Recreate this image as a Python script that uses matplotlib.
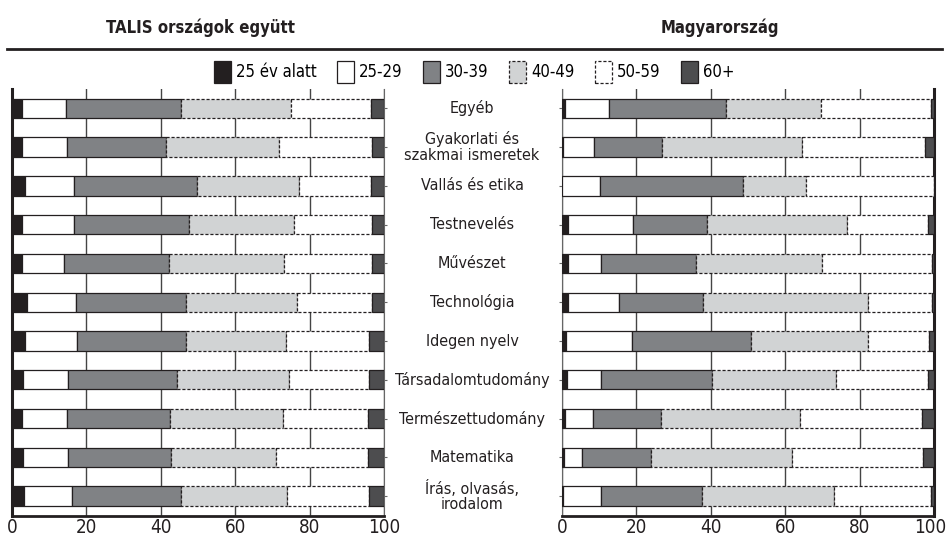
import matplotlib.pyplot as plt
import matplotlib.transforms as mtransforms
from matplotlib import font_manager as fm
from matplotlib.lines import Line2D

subjects = ['Egyéb', 'Gyakorlati és\nszakmai ismeretek', 'Vallás és etika', 'Testnevelés',
            'Művészet', 'Technológia', 'Idegen nyelv', 'Társadalomtudomány',
            'Természettudomány', 'Matematika', 'Írás, olvasás,\nirodalom']
age_groups = ['25 év alatt', '25-29', '30-39', '40-49', '50-59', '60+']

# TALIS országok együtt (%)
talis_u25 = [2.6, 2.8, 3.4, 2.6, 2.6, 4.0, 3.4, 2.9, 2.8, 3.0, 3.3]
talis_25_29 = [11.9, 12.0, 13.2, 14.1, 11.3, 13.2, 14.1, 12.2, 12.0, 12.0, 12.9]
talis_30_39 = [30.9, 26.6, 33.2, 30.9, 28.2, 29.5, 29.2, 29.3, 27.7, 27.8, 29.1]
talis_40_49 = [29.6, 30.4, 27.3, 28.1, 31.0, 29.9, 26.9, 30.0, 30.4, 28.3, 28.7]
talis_50_59 = [21.5, 24.9, 19.3, 21.2, 23.8, 20.1, 22.3, 21.7, 22.8, 24.6, 22.1]
talis_60 = [3.5, 3.3, 3.6, 3.1, 3.1, 3.3, 4.1, 3.9, 4.3, 4.3, 3.9]

# Magyarország (%)
hu_u25 = [0.8, 0.3, 0.0, 1.5, 1.6, 1.6, 1.2, 1.4, 0.9, 0.6, 0.4]
hu_25_29 = [11.8, 8.2, 10.1, 17.6, 9.0, 13.7, 17.6, 9.2, 7.3, 4.9, 10.0]
hu_30_39 = [31.4, 18.3, 38.6, 20.0, 25.3, 22.6, 32.0, 29.8, 18.5, 18.4, 27.2]
hu_40_49 = [25.5, 37.6, 16.8, 37.4, 33.9, 44.3, 31.4, 33.2, 37.3, 38.0, 35.6]
hu_50_59 = [29.7, 33.2, 34.5, 21.8, 29.6, 17.3, 16.4, 24.7, 32.7, 35.1, 26.0]
hu_60 = [0.8, 2.4, 0.0, 1.7, 0.6, 0.5, 1.4, 1.7, 3.3, 3.0, 0.8]

talis = [talis_u25, talis_25_29, talis_30_39, talis_40_49, talis_50_59, talis_60]
hungary = [hu_u25, hu_25_29, hu_30_39, hu_40_49, hu_50_59, hu_60]

# look for a narrow / condensed face, the original uses a condensed sans
narrow = [f for f in fm.fontManager.ttflist
          if 'condensed' in str(f.stretch) or 'Condensed' in f.fname or 'Narrow' in f.fname]
reg = [f for f in narrow if f.style == 'normal' and f.weight in (400, 'normal', 'regular')]
bld = [f for f in narrow if f.style == 'normal' and f.weight in (700, 'bold')]
if reg:
    reg.sort(key=lambda f: ('DejaVu' not in f.fname, f.fname))
    fp_reg = lambda s: fm.FontProperties(fname=reg[0].fname, size=s)
    scale = 1.0
else:
    fp_reg = lambda s: fm.FontProperties(family='DejaVu Sans', size=s)
    scale = 0.85
if bld:
    bld.sort(key=lambda f: ('DejaVu' not in f.fname, f.fname))
    fp_bold = lambda s: fm.FontProperties(fname=bld[0].fname, size=s)
else:
    fp_bold = lambda s: fm.FontProperties(family='DejaVu Sans', weight='bold', size=s * 0.85)

ink = '#231f20'
fills = [ink, 'white', '#808285', '#d1d3d4', 'white', '#4d4d4f']
styles = ['-', '-', '-', (0, (2.5, 1.5)), (0, (2.5, 1.5)), '-']

fig = plt.figure(figsize=(9.48, 5.45), dpi=100)
bottom = 1 - 515.5 / 545
height = (515.5 - 89) / 545
ax_l = fig.add_axes([12 / 948, bottom, 372 / 948, height])
ax_r = fig.add_axes([562 / 948, bottom, 372 / 948, height])

ypos = list(range(len(subjects)))


def draw(ax, data):
    left = [0.0] * len(subjects)
    handles = []
    for vals, fc, ls, name in zip(data, fills, styles, age_groups):
        b = ax.barh(ypos, vals, left=left, height=0.5, color=fc, edgecolor=ink,
                    linewidth=0.9, linestyle=ls, label=name, zorder=3)
        handles.append(b)
        left = [a + v for a, v in zip(left, vals)]
    ax.set_xlim(0, 100)
    ax.set_ylim(len(subjects) - 0.5, -0.5)
    ax.set_xticks([0, 20, 40, 60, 80, 100])
    ax.tick_params(axis='x', length=0, pad=2, colors=ink)
    for lab in ax.get_xticklabels():
        lab.set_fontproperties(fp_reg(13.5 * scale))
    ax.set_yticks(ypos)
    ax.set_yticklabels([])
    ax.xaxis.grid(True, color='#444444', linewidth=1.0, zorder=0)
    ax.set_axisbelow(True)
    for s in ax.spines.values():
        s.set_color(ink)
    ax.spines['top'].set_visible(False)
    ax.spines['bottom'].set_linewidth(2)
    return handles


handles = draw(ax_l, talis)
draw(ax_r, hungary)

ax_l.spines['left'].set_linewidth(2.2)
ax_l.spines['right'].set_linewidth(0.8)
ax_l.spines['right'].set_color('#666666')
ax_l.yaxis.tick_right()
ax_l.tick_params(axis='y', length=2.5, width=0.8, colors='#666666')

ax_r.spines['right'].set_linewidth(2.2)
ax_r.spines['left'].set_linewidth(0.8)
ax_r.spines['left'].set_color('#666666')
ax_r.tick_params(axis='y', length=2.5, width=0.8, colors='#666666')

# keep the last "100" inside the picture
last = ax_r.xaxis.get_major_ticks()[-1].label1
last.set_transform(last.get_transform() +
                   mtransforms.ScaledTranslation(-3.5 / 100, 0, fig.dpi_scale_trans))

# subject labels in the middle
trans = mtransforms.blended_transform_factory(fig.transFigure, ax_l.transData)
for y, name in zip(ypos, subjects):
    ax_l.text(472 / 948, y, name, transform=trans, ha='center', va='center',
              fontproperties=fp_reg(11.5 * scale), color=ink, linespacing=1.05, clip_on=False)

fig.text(200 / 948, 1 - 28 / 545, 'TALIS országok együtt', ha='center', va='center',
         fontproperties=fp_bold(12), color=ink)
fig.text(720 / 948, 1 - 28 / 545, 'Magyarország', ha='center', va='center',
         fontproperties=fp_bold(12), color=ink)
fig.add_artist(Line2D([7 / 948, 942 / 948], [1 - 48.5 / 545] * 2, transform=fig.transFigure,
                      color=ink, linewidth=2))

fig.legend(handles=handles, labels=age_groups, loc='center', ncol=6,
           bbox_to_anchor=(474 / 948, 1 - 72 / 545), frameon=False,
           prop=fp_reg(12 * scale),
           handlelength=1.0, handleheight=1.6, handletextpad=0.3, columnspacing=1.25)

fig.savefig('out.png', dpi=100)
